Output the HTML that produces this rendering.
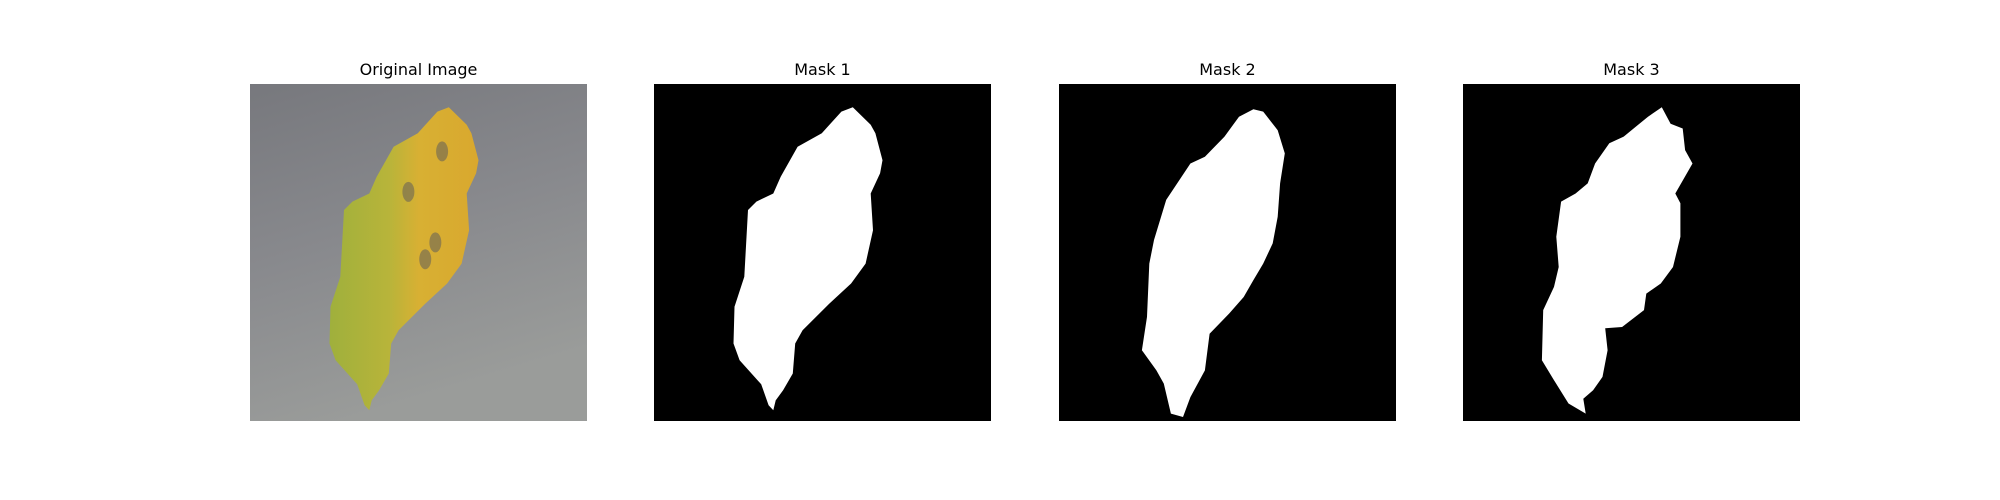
<!DOCTYPE html>
<html><head><meta charset="utf-8">
<style>
html,body{margin:0;padding:0;background:#fff;}
body{width:2000px;height:500px;position:relative;overflow:hidden;font-family:"DejaVu Sans","Liberation Sans",sans-serif;}
svg{position:absolute;left:0;top:0;}
</style></head>
<body>
<svg id="fig" width="2000" height="500" viewBox="0 0 2000 500">
<defs>
<linearGradient id="bg" x1="0" y1="0" x2="0.3" y2="1">
<stop offset="0" stop-color="#77787d"/><stop offset="0.5" stop-color="#88898d"/><stop offset="1" stop-color="#9a9c9a"/>
</linearGradient>
<linearGradient id="leaf" x1="0" y1="0" x2="1" y2="0">
<stop offset="0" stop-color="#9fb03c"/><stop offset="0.4" stop-color="#b8b43a"/><stop offset="0.6" stop-color="#d8b033"/><stop offset="1" stop-color="#d9a82e"/>
</linearGradient>
</defs>
</svg>
<script>
const panelTitles = ["Original Image", "Mask 1", "Mask 2", "Mask 3"];
const panelLefts = [250, 654, 1059, 1463];
const mask1X = [0.59,0.643,0.657,0.678,0.671,0.643,0.65,0.628,0.585,0.52,0.441,0.419,0.412,0.383,0.361,0.354,0.34,0.318,0.254,0.236,0.239,0.268,0.279,0.304,0.354,0.376,0.426,0.498,0.556];
const mask1Y = [0.069,0.121,0.146,0.226,0.265,0.325,0.434,0.533,0.592,0.652,0.731,0.77,0.859,0.909,0.939,0.968,0.953,0.891,0.82,0.77,0.661,0.572,0.374,0.349,0.325,0.275,0.186,0.146,0.082];
const mask2X = [0.577,0.606,0.649,0.67,0.656,0.649,0.634,0.606,0.577,0.548,0.505,0.447,0.433,0.39,0.368,0.332,0.311,0.289,0.246,0.261,0.268,0.282,0.318,0.39,0.433,0.491,0.534];
const mask2Y = [0.075,0.082,0.137,0.206,0.295,0.394,0.473,0.533,0.582,0.632,0.681,0.741,0.85,0.929,0.988,0.978,0.889,0.85,0.79,0.691,0.533,0.463,0.344,0.236,0.216,0.156,0.097];
const mask3X = [0.59,0.616,0.652,0.659,0.681,0.63,0.645,0.645,0.623,0.587,0.544,0.537,0.472,0.422,0.429,0.414,0.386,0.357,0.364,0.313,0.27,0.234,0.238,0.27,0.284,0.277,0.291,0.334,0.37,0.392,0.434,0.477,0.549];
const mask3Y = [0.069,0.118,0.132,0.196,0.236,0.325,0.354,0.453,0.543,0.592,0.622,0.671,0.721,0.725,0.79,0.869,0.909,0.934,0.978,0.948,0.879,0.82,0.671,0.602,0.543,0.453,0.349,0.325,0.295,0.236,0.176,0.156,0.097];

const NS = "http://www.w3.org/2000/svg";
const svg = document.getElementById("fig");
const TOP = 84, SIZE = 337;
function sx(i, v){ return panelLefts[i] + v * SIZE; }
function sy(v){ return TOP + v * SIZE; }
function pts(i, xs, ys){ return xs.map((x,k)=>sx(i,x).toFixed(1)+","+sy(ys[k]).toFixed(1)).join(" "); }
function mk(tag, attrs){ const e = document.createElementNS(NS, tag); for (const k in attrs) e.setAttribute(k, attrs[k]); svg.appendChild(e); return e; }

const masks = [[mask1X,mask1Y],[mask2X,mask2Y],[mask3X,mask3Y]];
panelTitles.forEach((t,i)=>{
  const tx = mk("text",{x:panelLefts[i]+SIZE/2,y:75,"text-anchor":"middle","font-size":"16","fill":"#000","font-family":"DejaVu Sans, Liberation Sans, sans-serif"});
  tx.textContent = t;
  
  
  const r = mk("rect",{x:panelLefts[i],y:TOP,width:SIZE,height:SIZE,fill: i===0 ? "url(#bg)" : "#000"});
  
  
});
const leaf = mk("polygon",{points:pts(0,mask1X,mask1Y),fill:"url(#leaf)"});


const spotX = [0.57,0.55,0.47,0.52];
const spotY = [0.2,0.47,0.32,0.52];
spotX.forEach((x,k)=>{
  const s = mk("ellipse",{cx:sx(0,x),cy:sy(spotY[k]),rx:6,ry:10,fill:"#6a6456",opacity:0.6});
  
  
});
masks.forEach((m,j)=>{
  const p = mk("polygon",{points:pts(j+1,m[0],m[1]),fill:"#fff"});
  
  
});
</script>
</body></html>
